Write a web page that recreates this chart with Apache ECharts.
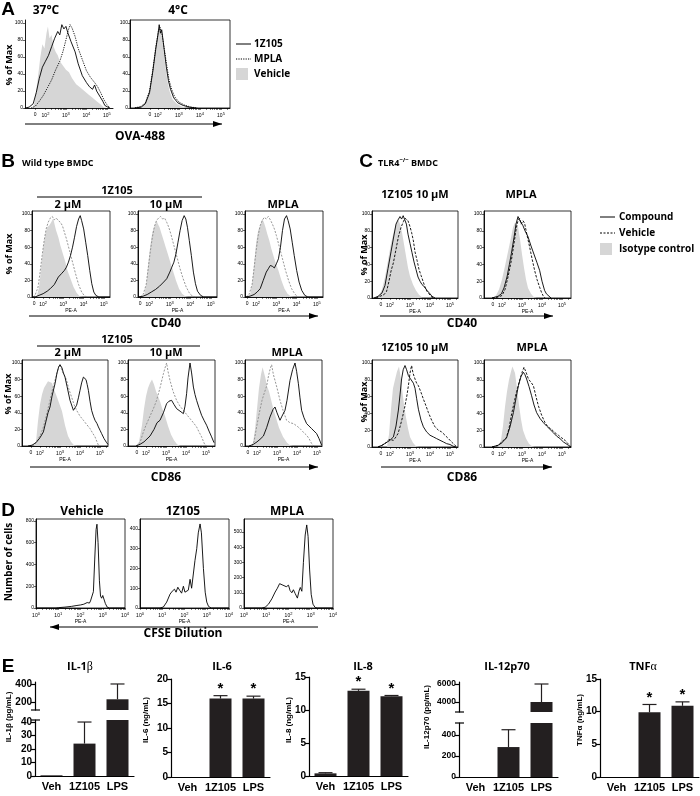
<!DOCTYPE html>
<html>
<head>
<meta charset="utf-8">
<script src="https://cdn.jsdelivr.net/npm/echarts@6/dist/echarts.min.js"></script>
<style>
html, body { margin: 0; padding: 0; background: #fff; }
#chart { width: 700px; height: 796px; }
</style>
</head>
<body>
<div id="chart"></div>
<script>
// ---------- data: flow histograms, [position on log axis, % of max] ----------
// A, OVA-488 uptake
const a37Veh = [[1.35,0],[1.45,5],[1.6,30],[1.75,60],[1.85,75],[1.95,70],[2.05,88],[2.12,96],[2.2,82],[2.3,86],[2.4,72],[2.5,66],[2.6,62],[2.7,55],[2.85,50],[3.0,45],[3.15,42],[3.3,35],[3.5,28],[3.7,24],[3.9,20],[4.1,16],[4.3,12],[4.5,8],[4.7,4],[4.85,1],[5.0,0]];
const a37Z = [[1.0,0],[1.2,1],[1.4,5],[1.55,18],[1.7,35],[1.85,48],[2.0,55],[2.15,62],[2.3,72],[2.45,82],[2.6,90],[2.7,86],[2.8,98],[2.9,93],[3.0,96],[3.1,88],[3.25,78],[3.45,66],[3.6,52],[3.8,38],[4.0,30],[4.15,25],[4.3,22],[4.4,27],[4.5,20],[4.65,14],[4.8,8],[4.9,3],[5.05,1],[5.15,0]];
const a37Mpla = [[1.3,0],[1.5,2],[1.7,8],[1.9,15],[2.1,24],[2.3,33],[2.5,45],[2.7,55],[2.85,66],[3.0,80],[3.1,90],[3.2,98],[3.3,94],[3.45,84],[3.6,70],[3.8,57],[4.0,44],[4.2,36],[4.4,30],[4.55,25],[4.7,18],[4.85,10],[5.0,4],[5.15,0]];
const a4Veh = [[0.9,0],[1.2,1],[1.4,5],[1.6,20],[1.75,45],[1.9,72],[2.0,88],[2.08,96],[2.15,90],[2.25,72],[2.35,50],[2.45,32],[2.55,20],[2.7,10],[2.9,5],[3.1,2],[3.4,0]];
const a4Z = [[0.9,0],[1.2,1],[1.4,5],[1.6,18],[1.75,42],[1.9,70],[2.0,86],[2.06,98],[2.12,88],[2.18,92],[2.3,68],[2.4,48],[2.5,32],[2.6,22],[2.75,12],[2.95,6],[3.2,3],[3.5,1],[3.8,0]];
const a4Mpla = [[0.9,0],[1.2,2],[1.4,6],[1.6,20],[1.75,44],[1.9,72],[2.02,90],[2.1,95],[2.2,86],[2.3,70],[2.42,50],[2.52,34],[2.65,22],[2.8,13],[3.0,7],[3.3,3],[3.6,1],[3.9,0]];

// B, wild type BMDC, CD40
const b40Iso2 = [[1.6,0],[1.7,2],[1.8,12],[1.9,35],[2.0,58],[2.1,75],[2.2,84],[2.3,86],[2.4,90],[2.5,95],[2.56,88],[2.64,80],[2.75,72],[2.85,62],[3.0,50],[3.1,42],[3.2,32],[3.35,22],[3.5,12],[3.65,5],[3.8,1],[3.95,0]];
const b40Veh2 = [[1.5,0],[1.6,2],[1.75,12],[1.85,30],[1.95,50],[2.05,68],[2.15,82],[2.25,90],[2.35,95],[2.45,97],[2.55,93],[2.65,95],[2.75,92],[2.85,90],[2.95,86],[3.05,78],[3.15,70],[3.3,56],[3.45,42],[3.6,28],[3.75,15],[3.9,6],[4.05,1],[4.2,0]];
const b40Z2 = [[1.45,0],[1.6,0],[1.8,2],[2.0,4],[2.2,7],[2.35,10],[2.55,15],[2.75,24],[2.9,28],[3.05,32],[3.15,36],[3.25,42],[3.35,50],[3.45,60],[3.55,72],[3.65,85],[3.75,94],[3.83,98],[3.9,92],[4.0,82],[4.1,66],[4.2,50],[4.3,32],[4.4,16],[4.5,6],[4.6,2],[4.75,0],[5.3,0]];
const b40Iso10 = [[1.65,0],[1.75,3],[1.85,15],[1.95,40],[2.05,62],[2.15,78],[2.25,85],[2.35,92],[2.42,88],[2.5,84],[2.6,76],[2.7,68],[2.8,60],[2.9,52],[3.0,44],[3.15,32],[3.3,20],[3.45,10],[3.6,4],[3.75,1],[3.9,0]];
const b40Veh10 = [[1.55,0],[1.7,3],[1.85,15],[1.95,35],[2.05,55],[2.15,72],[2.25,85],[2.35,92],[2.45,95],[2.55,97],[2.65,94],[2.75,95],[2.85,90],[2.95,84],[3.05,76],[3.2,62],[3.35,48],[3.5,34],[3.65,22],[3.8,12],[3.95,5],[4.1,1],[4.25,0]];
const b40Z10 = [[1.45,0],[1.7,1],[1.9,3],[2.1,6],[2.3,9],[2.5,13],[2.7,18],[2.85,22],[3.0,30],[3.1,36],[3.2,42],[3.3,52],[3.4,66],[3.5,80],[3.6,92],[3.7,98],[3.78,94],[3.86,84],[3.95,68],[4.05,50],[4.15,30],[4.25,16],[4.35,7],[4.5,2],[4.65,0],[5.3,0]];
const b40IsoM = [[1.6,0],[1.7,3],[1.8,15],[1.9,40],[2.0,65],[2.1,80],[2.2,86],[2.3,94],[2.38,90],[2.46,84],[2.55,76],[2.65,68],[2.75,58],[2.85,50],[2.95,42],[3.1,32],[3.25,20],[3.4,10],[3.55,4],[3.7,1],[3.85,0]];
const b40VehM = [[1.5,0],[1.65,3],[1.8,15],[1.9,35],[2.0,56],[2.1,74],[2.2,86],[2.3,92],[2.4,96],[2.5,94],[2.6,97],[2.7,93],[2.8,88],[2.9,82],[3.0,74],[3.15,60],[3.3,46],[3.45,32],[3.6,20],[3.75,10],[3.9,4],[4.05,0]];
const b40M = [[1.45,0],[1.7,1],[1.9,3],[2.05,6],[2.2,10],[2.35,20],[2.5,30],[2.6,34],[2.7,38],[2.8,37],[2.9,35],[3.0,40],[3.1,46],[3.2,60],[3.3,80],[3.4,94],[3.5,98],[3.58,92],[3.68,82],[3.78,66],[3.88,50],[4.0,32],[4.12,18],[4.25,8],[4.4,2],[4.55,0],[5.3,0]];

// B, wild type BMDC, CD86
const b86Iso2 = [[1.7,0],[1.8,5],[1.9,30],[2.0,50],[2.1,62],[2.2,70],[2.3,72],[2.4,78],[2.5,80],[2.6,76],[2.7,68],[2.8,62],[2.95,52],[3.1,42],[3.25,25],[3.4,12],[3.55,5],[3.7,1],[3.85,0]];
const b86Veh2 = [[1.6,0],[1.75,3],[1.9,8],[2.05,15],[2.17,23],[2.3,35],[2.4,45],[2.5,55],[2.6,66],[2.75,79],[2.85,88],[2.93,95],[3.0,98],[3.08,92],[3.17,87],[3.25,84],[3.33,79],[3.45,68],[3.58,59],[3.7,50],[3.83,43],[4.0,36],[4.17,31],[4.33,26],[4.5,21],[4.62,16],[4.75,11],[4.85,5],[4.92,1],[5.0,0]];
const b86Z2 = [[1.4,0],[1.6,1],[1.8,4],[2.0,10],[2.17,17],[2.3,30],[2.4,40],[2.5,47],[2.6,60],[2.75,75],[2.85,88],[2.93,95],[3.0,98],[3.1,94],[3.17,88],[3.25,83],[3.35,72],[3.5,55],[3.6,48],[3.67,43],[3.75,46],[3.83,49],[3.92,58],[4.0,67],[4.08,76],[4.17,83],[4.23,84],[4.3,80],[4.36,74],[4.42,67],[4.5,54],[4.58,43],[4.67,36],[4.75,31],[4.85,27],[4.92,23],[5.0,19],[5.08,15],[5.2,9],[5.33,4],[5.4,2]];
const b86Iso10 = [[1.5,0],[1.65,5],[1.8,25],[1.9,45],[2.0,60],[2.1,70],[2.2,76],[2.3,80],[2.4,74],[2.5,66],[2.6,60],[2.7,54],[2.8,46],[2.95,36],[3.1,24],[3.25,14],[3.4,7],[3.55,2],[3.7,0]];
const b86Veh10 = [[1.5,0],[1.7,4],[1.87,17],[2.0,25],[2.2,36],[2.37,45],[2.53,55],[2.7,70],[2.87,87],[2.95,94],[3.03,100],[3.1,90],[3.2,79],[3.35,66],[3.53,55],[3.7,48],[3.87,43],[4.03,38],[4.2,33],[4.37,28],[4.53,23],[4.65,17],[4.78,11],[4.88,5],[4.95,1],[5.05,0]];
const b86Z10 = [[1.5,0],[1.7,2],[1.9,5],[2.2,12],[2.4,20],[2.55,28],[2.7,31],[2.87,40],[3.03,51],[3.15,54],[3.28,55],[3.4,50],[3.53,45],[3.7,42],[3.87,39],[3.95,48],[4.03,63],[4.1,82],[4.2,100],[4.28,88],[4.37,71],[4.45,62],[4.53,55],[4.65,46],[4.78,37],[4.9,31],[5.03,25],[5.15,18],[5.28,11],[5.4,4]];
const b86IsoM = [[1.7,0],[1.8,4],[1.9,20],[2.0,45],[2.1,70],[2.2,86],[2.28,95],[2.34,97],[2.42,82],[2.5,72],[2.6,66],[2.68,58],[2.8,46],[2.95,34],[3.1,22],[3.3,11],[3.5,4],[3.65,1],[3.8,0]];
const b86VehM = [[1.75,0],[1.85,5],[1.98,23],[2.1,38],[2.25,55],[2.38,65],[2.48,72],[2.58,85],[2.66,93],[2.73,98],[2.82,86],[2.9,79],[3.0,70],[3.15,55],[3.3,43],[3.48,31],[3.65,28],[3.82,27],[4.0,24],[4.15,21],[4.3,17],[4.48,13],[4.6,9],[4.73,3],[4.85,0]];
const b86M = [[1.6,0],[1.82,2],[2.0,5],[2.15,8],[2.32,12],[2.48,22],[2.65,35],[2.8,44],[2.9,47],[3.0,40],[3.15,31],[3.25,36],[3.4,43],[3.5,55],[3.65,79],[3.78,92],[3.9,100],[3.98,90],[4.07,75],[4.15,58],[4.23,43],[4.35,34],[4.48,27],[4.6,24],[4.73,21],[4.85,18],[4.98,15],[5.1,9],[5.23,1]];

// C, TLR4-/- BMDC, CD40
const c40IsoZ = [[1.3,0],[1.45,3],[1.6,10],[1.75,25],[1.9,45],[2.05,65],[2.2,80],[2.3,88],[2.42,93],[2.5,88],[2.6,78],[2.7,64],[2.8,50],[2.9,36],[3.0,26],[3.15,16],[3.3,9],[3.45,4],[3.6,1],[3.7,0]];
const c40VehZ = [[1.3,0],[1.5,2],[1.7,4],[1.83,8],[1.95,20],[2.05,32],[2.17,42],[2.3,58],[2.42,73],[2.55,84],[2.67,91],[2.75,95],[2.83,97],[2.9,92],[3.0,85],[3.08,78],[3.17,68],[3.25,55],[3.35,45],[3.45,34],[3.55,27],[3.65,20],[3.75,13],[3.85,8],[3.95,5],[4.05,2],[4.15,0]];
const c40Z = [[1.2,0],[1.4,2],[1.6,6],[1.75,15],[1.9,35],[2.05,55],[2.2,75],[2.3,88],[2.4,93],[2.5,97],[2.58,94],[2.66,98],[2.75,96],[2.82,88],[2.9,76],[3.0,65],[3.1,54],[3.2,43],[3.3,34],[3.4,25],[3.5,20],[3.6,16],[3.73,13],[3.85,9],[4.0,5],[4.1,2],[4.25,0]];
const c40IsoM = [[1.5,0],[1.7,3],[1.85,10],[2.0,22],[2.15,38],[2.3,55],[2.45,72],[2.55,84],[2.65,90],[2.72,92],[2.8,85],[2.9,70],[3.0,52],[3.1,36],[3.2,22],[3.3,12],[3.45,5],[3.6,1],[3.75,0]];
const c40VehM = [[1.5,0],[1.8,1],[2.0,3],[2.15,10],[2.3,25],[2.47,45],[2.6,65],[2.72,84],[2.8,92],[2.88,95],[2.95,88],[3.05,92],[3.13,89],[3.25,75],[3.38,61],[3.5,47],[3.63,33],[3.75,22],[3.88,13],[3.97,7],[4.05,3],[4.15,0]];
const c40M = [[1.5,0],[1.8,2],[1.97,5],[2.1,12],[2.25,25],[2.37,40],[2.47,53],[2.6,72],[2.7,88],[2.8,97],[2.88,93],[2.97,95],[3.05,86],[3.15,80],[3.3,73],[3.45,62],[3.63,50],[3.75,42],[3.88,33],[4.0,20],[4.13,9],[4.22,5],[4.3,3],[4.45,0]];

// C, TLR4-/- BMDC, CD86
const c86IsoZ = [[1.85,0],[1.95,15],[2.05,45],[2.15,70],[2.25,80],[2.35,90],[2.45,96],[2.52,85],[2.6,70],[2.7,50],[2.8,35],[2.9,22],[3.0,12],[3.15,5],[3.3,1],[3.45,0]];
const c86VehZ = [[1.4,0],[1.6,2],[1.8,5],[1.95,9],[2.05,11],[2.17,8],[2.3,12],[2.4,16],[2.5,24],[2.62,35],[2.75,49],[2.85,62],[2.92,73],[3.0,88],[3.08,97],[3.15,88],[3.25,81],[3.33,76],[3.42,73],[3.55,65],[3.67,57],[3.8,49],[3.92,41],[4.08,32],[4.25,24],[4.42,20],[4.58,18],[4.75,14],[4.92,10],[5.08,6],[5.25,2],[5.35,0]];
const c86Z = [[1.4,0],[1.6,2],[1.8,5],[2.0,8],[2.17,12],[2.3,25],[2.42,44],[2.5,62],[2.58,81],[2.66,92],[2.75,97],[2.83,92],[2.92,85],[3.0,82],[3.08,81],[3.17,76],[3.25,70],[3.33,58],[3.42,45],[3.55,32],[3.67,24],[3.83,18],[4.0,14],[4.17,12],[4.33,10],[4.5,8],[4.67,6],[4.83,4],[5.0,3],[5.15,1],[5.3,0]];
const c86IsoM = [[1.8,0],[1.95,8],[2.05,25],[2.15,48],[2.25,66],[2.35,80],[2.45,90],[2.52,96],[2.58,97],[2.65,88],[2.75,70],[2.85,50],[2.95,33],[3.05,20],[3.2,10],[3.35,4],[3.5,1],[3.65,0]];
const c86VehM = [[1.5,0],[1.8,2],[1.95,5],[2.07,8],[2.2,10],[2.35,22],[2.47,38],[2.57,49],[2.73,66],[2.9,81],[3.02,90],[3.1,95],[3.15,97],[3.22,88],[3.32,81],[3.45,77],[3.57,73],[3.7,60],[3.82,49],[3.98,38],[4.15,29],[4.3,24],[4.48,21],[4.65,17],[4.82,14],[4.98,11],[5.15,8],[5.3,4],[5.4,2],[5.45,0]];
const c86M = [[1.5,0],[1.8,2],[2.0,5],[2.1,8],[2.23,11],[2.4,24],[2.57,41],[2.7,58],[2.82,73],[2.95,84],[3.07,89],[3.15,86],[3.23,81],[3.35,72],[3.48,61],[3.6,50],[3.73,41],[3.9,34],[4.07,29],[4.23,25],[4.4,21],[4.57,17],[4.73,13],[4.9,10],[5.07,6],[5.2,4],[5.32,2],[5.42,0]];

// D, CFSE dilution (cell counts)
const dVeh = [[0,0],[0.9,0],[1.0,3],[1.3,8],[1.6,15],[1.8,22],[2.0,28],[2.15,35],[2.3,50],[2.4,45],[2.45,65],[2.52,60],[2.58,150],[2.64,450],[2.7,720],[2.74,770],[2.79,600],[2.85,250],[2.9,110],[2.95,90],[3.0,115],[3.05,105],[3.12,40],[3.2,8],[3.3,0],[4,0]];
const dZ = [[0,0],[0.9,0],[1.05,5],[1.2,30],[1.35,70],[1.45,85],[1.55,95],[1.62,80],[1.7,105],[1.78,90],[1.87,75],[1.95,110],[2.02,80],[2.1,70],[2.17,90],[2.25,145],[2.32,100],[2.4,110],[2.47,240],[2.55,300],[2.62,380],[2.7,425],[2.76,380],[2.85,200],[2.93,80],[3.0,30],[3.08,8],[3.2,0],[4,0]];
const dMpla = [[0,0],[0.8,0],[0.95,5],[1.1,25],[1.25,60],[1.4,105],[1.5,130],[1.6,160],[1.68,172],[1.75,150],[1.82,160],[1.9,140],[2.0,150],[2.07,115],[2.15,100],[2.22,120],[2.3,95],[2.4,65],[2.47,110],[2.53,135],[2.6,110],[2.67,300],[2.75,480],[2.82,546],[2.88,470],[2.95,250],[3.02,90],[3.1,25],[3.2,3],[3.3,0],[4,0]];

// E, cytokines
const cats = ['Veh', '1Z105', 'LPS'];
const il1bMean = [0.5, 24, 230];
const il1bErr = [0, 16, 170];
const il6Mean = [0, 16, 16];
const il6Err = [0, 0.6, 0.5];
const il6Sig = [0, 1, 1];
const il8Mean = [0.4, 12.9, 12.1];
const il8Err = [0.1, 0.25, 0.1];
const il8Sig = [0, 1, 1];
const il12Mean = [0, 285, 4000];
const il12Err = [0, 165, 2000];
const tnfMean = [0, 9.9, 10.9];
const tnfErr = [0, 1.2, 0.6];
const tnfSig = [0, 1, 1];
const noSig = [0, 0, 0];

// ---------- styles ----------
const FONT = 'Open Sans';
const ARIAL = 'Liberation Sans';
const FILL = '#d6d6d6';
const BAR = '#231f20';
const STYLE = {
    fill: { lineStyle: { width: 0 }, areaStyle: { color: FILL, opacity: 1 }, z: 1 },
    gdash: { lineStyle: { color: '#8a8a8a', width: 0.9, type: [2, 1.5] }, z: 2 },
    dash: { lineStyle: { color: '#000', width: 0.9, type: [2.5, 1.5] }, z: 2 },
    dot: { lineStyle: { color: '#000', width: 0.9, type: [1.2, 1.2] }, z: 2 },
    solid: { lineStyle: { color: '#000', width: 0.9 }, z: 3 }
};

const grid = [], xAxis = [], yAxis = [], series = [], graphic = [];

function flowPlot(box, xr, ymax, yt, curves, o) {
    o = o || {};
    const gi = grid.length;
    grid.push({
        left: box[0], top: box[1], width: box[2], height: box[3],
        show: o.border !== false, borderColor: '#000', borderWidth: 0.8, backgroundColor: 'transparent'
    });
    const flow = o.zero !== undefined;
    const labs = flow ? [o.zero, 2, 3, 4, 5].filter(v => v <= xr[1]) : [0, 1, 2, 3, 4];
    const ticks = labs.slice();
    for (let d = flow ? 2 : 0; d < xr[1]; d++) {
        for (let k = 2; k <= 9; k++) {
            const v = d + Math.log10(k);
            if (v < xr[1]) ticks.push(v);
        }
    }
    xAxis.push({
        gridIndex: gi, type: 'value', min: xr[0], max: xr[1],
        axisLine: { show: true, onZero: false, lineStyle: { color: '#000', width: 0.9 } },
        splitLine: { show: false },
        axisTick: { show: true, length: 2, customValues: ticks, lineStyle: { color: '#000', width: 0.5 } },
        axisLabel: {
            customValues: labs, fontSize: 5, fontFamily: ARIAL, color: '#000', margin: 4,
            formatter: v => (flow && v < 1.9) ? '0' : '10{s|' + Math.round(v) + '}',
            rich: { s: { fontSize: 4, fontFamily: ARIAL, color: '#000', padding: [0, 0, 3, 0] } }
        },
        name: o.xname || '', nameLocation: 'middle', nameGap: 10,
        nameTextStyle: { fontSize: 5, fontFamily: ARIAL, color: '#000' }
    });
    yAxis.push({
        gridIndex: gi, type: 'value', min: 0, max: ymax,
        axisLine: { show: true, onZero: false, lineStyle: { color: '#000', width: 0.9 } },
        splitLine: { show: false },
        axisTick: { show: true, length: 2, customValues: yt, lineStyle: { color: '#000', width: 0.6 } },
        axisLabel: { customValues: yt, fontSize: 5, fontFamily: ARIAL, color: '#000', margin: 2 }
    });
    curves.forEach(c => {
        series.push(Object.assign({
            type: 'line', xAxisIndex: gi, yAxisIndex: gi, data: c[0],
            symbol: 'none', silent: true, clip: true
        }, JSON.parse(JSON.stringify(STYLE[c[1]]))));
    });
}

function errItem(params, api) {
    const i = api.value(0), m = api.value(1), top = api.value(2), star = api.value(3);
    const p0 = api.coord([i, m]), p1 = api.coord([i, top]);
    const ch = [];
    if (top > m) {
        ch.push({ type: 'line', shape: { x1: p0[0], y1: p0[1], x2: p1[0], y2: p1[1] }, style: { stroke: BAR, lineWidth: 1.2 } });
        ch.push({ type: 'line', shape: { x1: p1[0] - 7, y1: p1[1], x2: p1[0] + 7, y2: p1[1] }, style: { stroke: BAR, lineWidth: 1.2 } });
    }
    if (star) {
        ch.push({ type: 'text', x: p1[0], y: p1[1] - 7, style: { text: '*', fontSize: 15, fontWeight: 'bold', fontFamily: ARIAL, fill: '#000', align: 'center', verticalAlign: 'middle' } });
    }
    return { type: 'group', children: ch };
}

function barPlot(box, min, max, yt, means, errs, sig, o) {
    o = o || {};
    const gi = grid.length;
    grid.push({ left: box[0], top: box[1], width: box[2], height: box[3] });
    xAxis.push({
        gridIndex: gi, type: 'category', data: cats, show: o.showX !== false,
        axisLine: { lineStyle: { color: '#000', width: 1.2 } }, axisTick: { show: false },
        axisLabel: { interval: 0, fontSize: 11, fontWeight: 'bold', fontFamily: ARIAL, color: '#000', margin: 5 }
    });
    yAxis.push({
        gridIndex: gi, type: 'value', min: min, max: max,
        axisLine: { show: true, lineStyle: { color: '#000', width: 1.2 } },
        splitLine: { show: false },
        axisTick: { show: true, length: 4, customValues: yt, lineStyle: { color: '#000', width: 1.2 } },
        axisLabel: {
            customValues: yt, fontSize: o.tickSize || 10, fontWeight: 'bold', fontFamily: ARIAL,
            color: '#000', margin: 3, formatter: v => String(v)
        }
    });
    series.push({
        type: 'bar', xAxisIndex: gi, yAxisIndex: gi, data: means, barWidth: 22,
        itemStyle: { color: BAR }, clip: true, silent: true
    });
    series.push({
        type: 'custom', xAxisIndex: gi, yAxisIndex: gi, renderItem: errItem, clip: !!o.clip, silent: true,
        data: means.map((m, i) => [i, m, m + errs[i], sig[i]])
    });
}

// ---------- graphic helpers ----------
function txt(text, x, y, size, o) {
    o = o || {};
    graphic.push({
        type: 'text', x: x, y: y, rotation: o.rot || 0, silent: true, z: 10,
        style: {
            text: text, fontSize: size, fontWeight: o.weight || 'bold', fontFamily: o.font || FONT,
            fill: '#000', align: o.align || 'center', verticalAlign: 'middle', rich: o.rich
        }
    });
}
function seg(x1, y1, x2, y2, w, color) {
    graphic.push({ type: 'line', silent: true, z: 10, shape: { x1, y1, x2, y2 }, style: { stroke: color || '#000', lineWidth: w || 1 } });
}
function dashSeg(x1, y1, x2, y2, dash) {
    graphic.push({ type: 'line', silent: true, z: 10, shape: { x1, y1, x2, y2 }, style: { stroke: '#000', lineWidth: 1, lineDash: dash } });
}
function arrow(x1, x2, y, headLeft) {
    seg(x1, y, x2, y, 1);
    const hx = headLeft ? x1 : x2, d = headLeft ? 9 : -9;
    graphic.push({ type: 'polygon', silent: true, z: 10, shape: { points: [[hx, y], [hx + d, y - 3], [hx + d, y + 3]] }, style: { fill: '#000' } });
}
function box(x, y, w, h) {
    graphic.push({ type: 'rect', silent: true, z: 10, shape: { x, y, width: w, height: h }, style: { fill: FILL } });
}
const UP = Math.PI / 2;

// ---------- panel A ----------
const pct = [0, 20, 40, 60, 80, 100];
flowPlot([25, 20, 88, 88], [1.0, 5.3], 103.5, pct, [[a37Veh, 'fill'], [a37Mpla, 'dot'], [a37Z, 'solid']], { zero: 1.5, border: false });
flowPlot([130, 20, 100, 88], [0.67, 5.43], 103.5, pct, [[a4Veh, 'fill'], [a4Mpla, 'dot'], [a4Z, 'solid']], { zero: 1.62 });
txt('A', 8, 10, 19, { font: ARIAL });
txt('37°C', 46, 11, 12);
txt('4°C', 178, 11, 12);
txt('% of Max', 9, 65, 9, { rot: UP });
arrow(25, 222, 124);
txt('OVA-488', 140, 137, 12);
seg(236, 44, 251, 44, 1);
txt('1Z105', 254, 44, 10, { align: 'left' });
dashSeg(236, 59, 251, 59, [1.2, 1.2]);
txt('MPLA', 254, 59, 10, { align: 'left' });
box(236, 68, 12, 12);
txt('Vehicle', 254, 74, 10, { align: 'left' });

// ---------- panel B ----------
flowPlot([32, 211, 78, 86], [1.45, 5.3], 103.6, pct, [[b40Iso2, 'fill'], [b40Veh2, 'gdash'], [b40Z2, 'solid']], { zero: 1.55, xname: 'PE-A' });
flowPlot([138, 211, 79, 86], [1.45, 5.3], 103.6, pct, [[b40Iso10, 'fill'], [b40Veh10, 'gdash'], [b40Z10, 'solid']], { zero: 1.55, xname: 'PE-A' });
flowPlot([245, 211, 78, 86], [1.45, 5.3], 103.6, pct, [[b40IsoM, 'fill'], [b40VehM, 'gdash'], [b40M, 'solid']], { zero: 1.55, xname: 'PE-A' });
flowPlot([22, 360, 86, 86], [1.1, 5.4], 103.6, pct, [[b86Iso2, 'fill'], [b86Veh2, 'gdash'], [b86Z2, 'solid']], { zero: 1.55, xname: 'PE-A' });
flowPlot([128, 360, 87, 86], [1.1, 5.45], 103.6, pct, [[b86Iso10, 'fill'], [b86Veh10, 'gdash'], [b86Z10, 'solid']], { zero: 1.55, xname: 'PE-A' });
flowPlot([245, 360, 77, 86], [1.4, 5.25], 103.6, pct, [[b86IsoM, 'fill'], [b86VehM, 'gdash'], [b86M, 'solid']], { zero: 1.55, xname: 'PE-A' });
txt('B', 8, 162, 19, { font: ARIAL });
txt('Wild type BMDC', 22, 163, 9, { align: 'left' });
txt('1Z105', 117, 191, 11);
seg(37, 197, 202, 197, 1);
txt('2 µM', 68, 205, 11);
txt('10 µM', 166, 205, 11);
txt('MPLA', 283, 205, 11);
txt('% of Max', 9, 254, 9, { rot: UP });
arrow(29, 318, 316);
txt('CD40', 166, 324, 12);
txt('1Z105', 117, 340, 11);
seg(37, 346, 200, 346, 1);
txt('2 µM', 68, 353, 11);
txt('10 µM', 166, 353, 11);
txt('MPLA', 287, 353, 11);
txt('% of Max', 8, 394, 9, { rot: UP });
arrow(30, 318, 467);
txt('CD86', 166, 478, 12);

// ---------- panel C ----------
flowPlot([372, 211, 86, 87], [1.1, 5.4], 103.6, pct, [[c40IsoZ, 'fill'], [c40VehZ, 'dash'], [c40Z, 'solid']], { zero: 1.55, xname: 'PE-A' });
flowPlot([484, 211, 87, 87], [1.1, 5.45], 103.6, pct, [[c40IsoM, 'fill'], [c40VehM, 'dash'], [c40M, 'solid']], { zero: 1.55, xname: 'PE-A' });
flowPlot([372, 360, 86, 87], [1.1, 5.4], 103.6, pct, [[c86IsoZ, 'fill'], [c86VehZ, 'dash'], [c86Z, 'solid']], { zero: 1.55, xname: 'PE-A' });
flowPlot([484, 360, 87, 87], [1.1, 5.45], 103.6, pct, [[c86IsoM, 'fill'], [c86VehM, 'dash'], [c86M, 'solid']], { zero: 1.55, xname: 'PE-A' });
txt('C', 366, 162, 19, { font: ARIAL });
txt('TLR4{s|−/−} BMDC', 378, 163, 9, { align: 'left', rich: { s: { fontSize: 6, fontWeight: 'bold', fontFamily: FONT, padding: [0, 0, 6, 0] } } });
txt('1Z105 10 µM', 415, 195, 11);
txt('MPLA', 521, 195, 11);
txt('% of Max', 364, 255, 9, { rot: UP });
arrow(380, 553, 316);
txt('CD40', 462, 324, 12);
seg(600, 217, 615, 217, 1);
txt('Compound', 619, 217, 10, { align: 'left' });
dashSeg(600, 233, 615, 233, [2, 1.5]);
txt('Vehicle', 619, 233, 10, { align: 'left' });
box(600, 243, 12, 12);
txt('Isotype control', 619, 249, 10, { align: 'left' });
txt('1Z105 10 µM', 415, 348, 11);
txt('MPLA', 532, 348, 11);
txt('% of Max', 364, 402, 9, { rot: UP });
arrow(381, 552, 467);
txt('CD86', 462, 478, 12);

// ---------- panel D ----------
flowPlot([36, 519, 89, 89], [0, 4], 818, [0, 200, 400, 600, 800], [[dVeh, 'solid']], { xname: 'PE-A' });
flowPlot([140, 519, 89, 89], [0, 4], 450, [0, 100, 200, 300, 400], [[dZ, 'solid']], { xname: 'PE-A' });
flowPlot([244, 519, 89, 89], [0, 4], 585, [0, 100, 200, 300, 400, 500], [[dMpla, 'solid']], { xname: 'PE-A' });
txt('D', 8, 511, 19, { font: ARIAL });
txt('Vehicle', 82, 512, 12);
txt('1Z105', 183, 512, 12);
txt('MPLA', 287, 512, 12);
txt('Number of cells', 9, 562, 10, { rot: UP });
arrow(50, 318, 627, true);
txt('CFSE Dilution', 183, 634, 12);

// ---------- panel E ----------
barPlot([35, 682, 99, 28], 111, 422, [200, 400], il1bMean, il1bErr, noSig, { showX: false, clip: true });
barPlot([35, 720, 99, 56], 0, 41.5, [0, 10, 20, 30, 40], il1bMean, il1bErr, noSig, { clip: true });
barPlot([171, 679, 99, 98], 0, 20, [0, 5, 10, 15, 20], il6Mean, il6Err, il6Sig);
barPlot([309, 677, 99, 99], 0, 15, [0, 5, 10, 15], il8Mean, il8Err, il8Sig);
barPlot([459, 682, 99, 30], 2889, 6222, [4000, 6000], il12Mean, il12Err, noSig, { showX: false, clip: true, tickSize: 8.5 });
barPlot([459, 723, 99, 54], 0, 514, [0, 200, 400], il12Mean, il12Err, noSig, { clip: true, tickSize: 8.5 });
barPlot([600, 679, 99, 98], 0, 15, [0, 5, 10, 15], tnfMean, tnfErr, tnfSig);
// axis break marks
seg(31, 710, 40, 710, 1.2);
seg(31, 720, 40, 720, 1.2);
seg(455, 712, 464, 712, 1.2);
seg(455, 723, 464, 723, 1.2);
txt('E', 8, 667, 19, { font: ARIAL });
const greek = { g: { fontSize: 12, fontFamily: 'Liberation Serif', fontWeight: 'normal' } };
txt('IL-1{g|β}', 80, 667, 11, { rich: greek });
txt('IL-6', 222, 667, 11);
txt('IL-8', 363, 667, 11);
txt('IL-12p70', 507, 667, 11);
txt('TNF{g|α}', 643, 667, 11, { rich: greek });
const yl = { font: ARIAL, rot: UP };
txt('IL-1β (pg/mL)', 9, 717, 8, yl);
txt('IL-6 (ng/mL)', 146, 720, 8, yl);
txt('IL-8 (ng/mL)', 289, 720, 8, yl);
txt('IL-12p70 (pg/mL)', 427, 717, 8, yl);
txt('TNFα (ng/mL)', 580, 720, 8, yl);

const chart = echarts.init(document.getElementById('chart'), null, { renderer: 'canvas' });
chart.setOption({
    animation: false,
    backgroundColor: '#fff',
    grid: grid,
    xAxis: xAxis,
    yAxis: yAxis,
    series: series,
    graphic: graphic
});
</script>
</body>
</html>
